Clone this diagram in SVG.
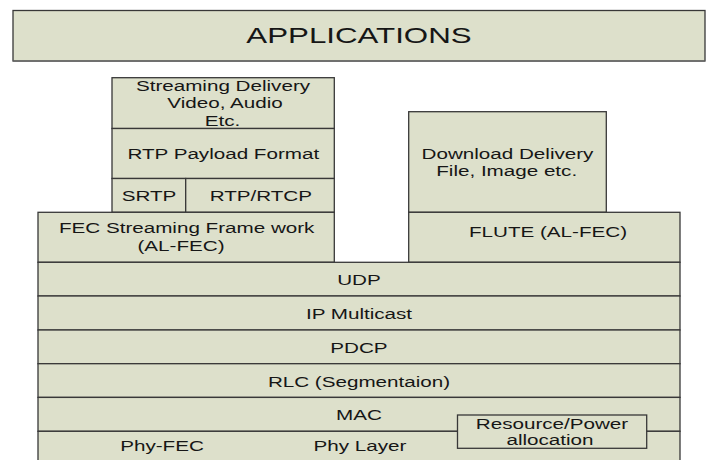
<svg xmlns="http://www.w3.org/2000/svg" width="708" height="460" viewBox="0 0 708 460">
  <style>
    .box { fill: #dde0cb; stroke: #383838; stroke-width: 1.3; }
    .lbl { font-family: "Liberation Sans", Arial, sans-serif; font-size: 15.4px; fill: #161616; text-anchor: middle; }
    .big { font-family: "Liberation Sans", Arial, sans-serif; font-size: 22.5px; fill: #161616; text-anchor: middle; }
  </style>
  <rect width="708" height="460" fill="#ffffff"/>

  <!-- top banner -->
  <g id="applications">
    <rect x="13" y="10.5" width="692" height="50.5" class="box"/>
    <line x1="13" y1="61.3" x2="705" y2="61.3" stroke="#707070" stroke-width="1.6"/>
    <text class="big" x="258.27" y="42.7" transform="scale(1.39 1)">APPLICATIONS</text>
  </g>

  <!-- streaming branch -->
  <g id="streaming-delivery">
    <rect x="112" y="77.7" width="222.3" height="50.8" class="box"/>
    <text class="lbl" x="166.42" y="90.8" transform="scale(1.34 1)">Streaming Delivery</text>
    <text class="lbl" x="167.91" y="108.4" transform="scale(1.34 1)">Video, Audio</text>
    <text class="lbl" x="166.04" y="126" transform="scale(1.34 1)">Etc.</text>
  </g>
  <g id="rtp-payload">
    <rect x="112" y="128.5" width="222.3" height="50" class="box"/>
    <text class="lbl" x="166.64" y="158.7" transform="scale(1.34 1)">RTP Payload Format</text>
  </g>
  <g id="srtp">
    <rect x="112" y="178.5" width="73.7" height="33.8" class="box"/>
    <text class="lbl" x="111.19" y="200.7" transform="scale(1.34 1)">SRTP</text>
  </g>
  <g id="rtp-rtcp">
    <rect x="185.7" y="178.5" width="148.6" height="33.8" class="box"/>
    <text class="lbl" x="194.63" y="200.7" transform="scale(1.34 1)">RTP/RTCP</text>
  </g>
  <g id="fec-streaming">
    <rect x="38" y="212.3" width="296.3" height="50" class="box"/>
    <text class="lbl" x="139.33" y="233.3" transform="scale(1.34 1)">FEC Streaming Frame work</text>
    <text class="lbl" x="135.07" y="251.5" transform="scale(1.34 1)">(AL-FEC)</text>
  </g>

  <!-- download branch -->
  <g id="download-delivery">
    <rect x="408.7" y="111.7" width="197.6" height="100.6" class="box"/>
    <text class="lbl" x="378.73" y="159" transform="scale(1.34 1)">Download Delivery</text>
    <text class="lbl" x="378.13" y="176" transform="scale(1.34 1)">File, Image etc.</text>
  </g>
  <g id="flute">
    <rect x="408.7" y="212.3" width="271.3" height="50" class="box"/>
    <text class="lbl" x="408.96" y="237" transform="scale(1.34 1)">FLUTE (AL-FEC)</text>
  </g>

  <!-- shared lower layers -->
  <g id="udp">
    <rect x="38" y="262.3" width="642" height="33.7" class="box"/>
    <text class="lbl" x="267.91" y="284.7" transform="scale(1.34 1)">UDP</text>
  </g>
  <g id="ip-multicast">
    <rect x="38" y="296" width="642" height="34" class="box"/>
    <text class="lbl" x="267.91" y="318.7" transform="scale(1.34 1)">IP Multicast</text>
  </g>
  <g id="pdcp">
    <rect x="38" y="330" width="642" height="33.7" class="box"/>
    <text class="lbl" x="267.91" y="352.7" transform="scale(1.34 1)">PDCP</text>
  </g>
  <g id="rlc">
    <rect x="38" y="363.7" width="642" height="33.7" class="box"/>
    <text class="lbl" x="267.91" y="386.7" transform="scale(1.34 1)">RLC (Segmentaion)</text>
  </g>
  <g id="mac">
    <rect x="38" y="397.4" width="642" height="33.9" class="box"/>
    <text class="lbl" x="267.91" y="420" transform="scale(1.34 1)">MAC</text>
  </g>
  <g id="phy">
    <rect x="38" y="431.3" width="642" height="40" class="box"/>
    <text class="lbl" x="120.9" y="450.7" transform="scale(1.34 1)">Phy-FEC</text>
    <text class="lbl" x="268.66" y="450.7" transform="scale(1.34 1)">Phy Layer</text>
  </g>
  <g id="resource-power">
    <rect x="457.5" y="415" width="189.2" height="33.3" class="box"/>
    <text class="lbl" x="411.94" y="429" transform="scale(1.34 1)">Resource/Power</text>
    <text class="lbl" x="410.45" y="445" transform="scale(1.34 1)">allocation</text>
  </g>

  <!-- the stack has no connectors -->
  <g id="connectors"/>
</svg>
